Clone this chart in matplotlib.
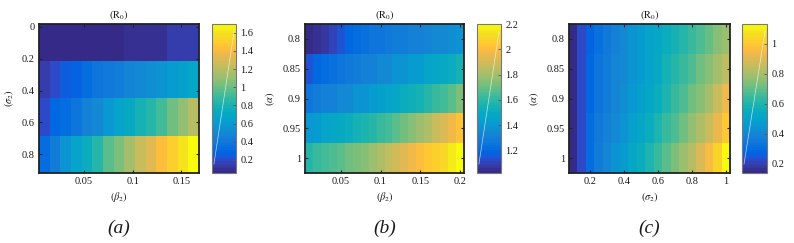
import numpy as np
import matplotlib
matplotlib.use("Agg")
import matplotlib.pyplot as plt
from matplotlib.colors import ListedColormap

# MATLAB parula (64 entries)
parula = ListedColormap([
    [0.2081, 0.1663, 0.5292], [0.2116, 0.1898, 0.5777], [0.2123, 0.2138, 0.6270], [0.2081, 0.2386, 0.6771],
    [0.1959, 0.2645, 0.7279], [0.1707, 0.2919, 0.7792], [0.1253, 0.3242, 0.8303], [0.0591, 0.3598, 0.8683],
    [0.0117, 0.3875, 0.8820], [0.0060, 0.4086, 0.8828], [0.0165, 0.4266, 0.8786], [0.0329, 0.4430, 0.8720],
    [0.0498, 0.4586, 0.8641], [0.0629, 0.4737, 0.8554], [0.0723, 0.4887, 0.8467], [0.0779, 0.5040, 0.8384],
    [0.0793, 0.5200, 0.8312], [0.0749, 0.5375, 0.8263], [0.0641, 0.5570, 0.8240], [0.0488, 0.5772, 0.8228],
    [0.0343, 0.5966, 0.8199], [0.0265, 0.6137, 0.8135], [0.0239, 0.6287, 0.8038], [0.0231, 0.6418, 0.7913],
    [0.0228, 0.6535, 0.7768], [0.0267, 0.6642, 0.7607], [0.0384, 0.6743, 0.7436], [0.0590, 0.6838, 0.7254],
    [0.0843, 0.6928, 0.7062], [0.1133, 0.7015, 0.6859], [0.1453, 0.7098, 0.6646], [0.1801, 0.7177, 0.6424],
    [0.2178, 0.7250, 0.6193], [0.2586, 0.7317, 0.5954], [0.3022, 0.7376, 0.5712], [0.3482, 0.7424, 0.5473],
    [0.3953, 0.7459, 0.5244], [0.4420, 0.7481, 0.5033], [0.4871, 0.7491, 0.4840], [0.5300, 0.7491, 0.4661],
    [0.5709, 0.7485, 0.4494], [0.6099, 0.7473, 0.4337], [0.6473, 0.7456, 0.4188], [0.6834, 0.7435, 0.4044],
    [0.7184, 0.7411, 0.3905], [0.7525, 0.7384, 0.3768], [0.7858, 0.7356, 0.3633], [0.8185, 0.7327, 0.3498],
    [0.8507, 0.7299, 0.3360], [0.8824, 0.7274, 0.3217], [0.9139, 0.7258, 0.3063], [0.9450, 0.7261, 0.2886],
    [0.9739, 0.7314, 0.2666], [0.9938, 0.7455, 0.2403], [0.9990, 0.7653, 0.2164], [0.9955, 0.7861, 0.1967],
    [0.9880, 0.8066, 0.1794], [0.9789, 0.8271, 0.1633], [0.9697, 0.8481, 0.1475], [0.9626, 0.8705, 0.1309],
    [0.9589, 0.8949, 0.1132], [0.9598, 0.9218, 0.0948], [0.9661, 0.9514, 0.0755], [0.9763, 0.9831, 0.0538],
])

# ---- panel (a): R0 over beta2 (x) and sigma2 (y)
beta2_a = [0.0093, 0.0203, 0.0312, 0.0422, 0.0532, 0.0641, 0.0751, 0.0860,
           0.0970, 0.1079, 0.1189, 0.1298, 0.1408, 0.1517, 0.1627]
sigma2_a = [0.1, 0.3333, 0.5667, 0.8]
R0_a = [
    [0.057, 0.057, 0.057, 0.057, 0.080, 0.080, 0.080, 0.080, 0.105, 0.105, 0.105, 0.105, 0.135, 0.135, 0.135],
    [0.139, 0.204, 0.237, 0.286, 0.335, 0.368, 0.401, 0.434, 0.467, 0.499, 0.532, 0.565, 0.598, 0.630, 0.679],
    [0.188, 0.303, 0.335, 0.385, 0.450, 0.516, 0.581, 0.647, 0.712, 0.778, 0.843, 0.925, 1.007, 1.089, 1.204],
    [0.319, 0.417, 0.548, 0.647, 0.745, 0.843, 0.958, 1.040, 1.138, 1.236, 1.318, 1.417, 1.498, 1.613, 1.695],
]

# ---- panel (b): R0 over beta2 (x) and alpha (y)
beta2_b = [0.01, 0.02, 0.03, 0.04, 0.05, 0.06, 0.07, 0.08, 0.09, 0.10,
           0.11, 0.12, 0.13, 0.14, 0.15, 0.16, 0.17, 0.18, 0.19, 0.20]
alpha_b = [0.8, 0.85, 0.9, 0.95, 1.0]
R0_b = [
    [1.020, 1.044, 1.067, 1.103, 1.138, 1.197, 1.221, 1.232, 1.244, 1.256,
     1.268, 1.280, 1.291, 1.303, 1.315, 1.327, 1.339, 1.350, 1.362, 1.374],
    [1.138, 1.197, 1.221, 1.232, 1.244, 1.268, 1.280, 1.303, 1.315, 1.339,
     1.350, 1.374, 1.386, 1.409, 1.421, 1.445, 1.468, 1.492, 1.516, 1.551],
    [1.256, 1.280, 1.303, 1.315, 1.339, 1.350, 1.374, 1.386, 1.409, 1.433,
     1.457, 1.480, 1.504, 1.527, 1.551, 1.575, 1.610, 1.645, 1.681, 1.728],
    [1.398, 1.421, 1.445, 1.468, 1.492, 1.516, 1.539, 1.563, 1.586, 1.610,
     1.645, 1.681, 1.716, 1.752, 1.787, 1.822, 1.870, 1.917, 1.964, 2.023],
    [1.575, 1.610, 1.634, 1.657, 1.681, 1.704, 1.728, 1.752, 1.787, 1.822,
     1.858, 1.893, 1.929, 1.964, 1.999, 2.035, 2.070, 2.106, 2.153, 2.200],
]

# ---- panel (c): R0 over sigma2 (x) and alpha (y)
sigma2_c = [0.10, 0.15, 0.20, 0.25, 0.30, 0.35, 0.40, 0.45, 0.50, 0.55,
            0.60, 0.65, 0.70, 0.75, 0.80, 0.85, 0.90, 0.95, 1.00]
alpha_c = [0.8, 0.85, 0.9, 0.95, 1.0]
R0_c = [
    [0.145, 0.219, 0.279, 0.318, 0.348, 0.378, 0.407, 0.437, 0.467, 0.496,
     0.526, 0.556, 0.586, 0.615, 0.645, 0.675, 0.704, 0.744, 0.784],
    [0.145, 0.219, 0.289, 0.328, 0.358, 0.388, 0.417, 0.447, 0.477, 0.506,
     0.536, 0.576, 0.605, 0.645, 0.675, 0.714, 0.754, 0.793, 0.843],
    [0.145, 0.219, 0.289, 0.338, 0.368, 0.397, 0.427, 0.457, 0.487, 0.526,
     0.556, 0.595, 0.635, 0.675, 0.714, 0.754, 0.803, 0.853, 0.932],
    [0.145, 0.219, 0.298, 0.348, 0.378, 0.417, 0.447, 0.487, 0.516, 0.556,
     0.595, 0.635, 0.675, 0.714, 0.764, 0.813, 0.863, 0.922, 1.001],
    [0.145, 0.219, 0.308, 0.358, 0.397, 0.437, 0.477, 0.516, 0.556, 0.595,
     0.635, 0.685, 0.734, 0.784, 0.833, 0.892, 0.952, 1.031, 1.130],
]

panels = [
    dict(x=beta2_a, y=sigma2_a, z=R0_a, clim=(0.057, 1.695),
         xticks=[0.05, 0.1, 0.15], yticks=[0, 0.2, 0.4, 0.6, 0.8],
         cticks=[0.2, 0.4, 0.6, 0.8, 1.0, 1.2, 1.4, 1.6],
         xlabel=r"$(\beta_2)$", ylabel=r"$(\sigma_2)$", tag="(a)",
         ax_px=(39, 199), cb_px=(212, 236)),
    dict(x=beta2_b, y=alpha_b, z=R0_b, clim=(1.02, 2.2),
         xticks=[0.05, 0.1, 0.15, 0.2], yticks=[0.8, 0.85, 0.9, 0.95, 1.0],
         cticks=[1.2, 1.4, 1.6, 1.8, 2.0, 2.2],
         xlabel=r"$(\beta_2)$", ylabel=r"$(\alpha)$", tag="(b)",
         ax_px=(305, 464), cb_px=(477, 501)),
    dict(x=sigma2_c, y=alpha_c, z=R0_c, clim=(0.14, 1.13),
         xticks=[0.2, 0.4, 0.6, 0.8, 1.0], yticks=[0.8, 0.85, 0.9, 0.95, 1.0],
         cticks=[0.2, 0.4, 0.6, 0.8, 1.0],
         xlabel=r"$(\sigma_2)$", ylabel=r"$(\alpha)$", tag="(c)",
         ax_px=(569, 730), cb_px=(742, 767)),
]

plt.rcParams["font.family"] = "Liberation Serif"
plt.rcParams["mathtext.fontset"] = "stix"

W, H = 794, 243
fig = plt.figure(figsize=(W / 100, H / 100), dpi=100)
top_px, bot_px = 24, 173
txt = "#1a1a1a"

def fmt(v):
    return "%g" % v

for p in panels:
    x0, x1 = p["ax_px"]
    ax = fig.add_axes([x0 / W, 1 - bot_px / H, (x1 - x0) / W, (bot_px - top_px) / H])
    mesh = ax.pcolormesh(p["x"], p["y"], np.array(p["z"]), cmap=parula,
                         vmin=p["clim"][0], vmax=p["clim"][1], shading="nearest")
    ax.invert_yaxis()
    ax.set_xticks(p["xticks"])
    ax.set_xticklabels([fmt(v) for v in p["xticks"]])
    ax.set_yticks(p["yticks"])
    ax.set_yticklabels([fmt(v) for v in p["yticks"]])
    ax.tick_params(direction="in", length=2.5, width=0.8, labelsize=7.5, pad=3,
                   top=True, right=True, colors="#222222", labelcolor=txt)
    for s in ax.spines.values():
        s.set_linewidth(1.3)
        s.set_color("#222222")
    ax.set_title(r"$(\mathrm{R}_0)$", fontsize=7.5, pad=4, color=txt)
    ax.set_xlabel(p["xlabel"], fontsize=7.5, labelpad=3, color=txt)
    ax.set_ylabel(p["ylabel"], fontsize=7.5, labelpad=4, color=txt)
    ax.text(0.5, -0.31, p["tag"], transform=ax.transAxes, ha="center", va="top",
            fontsize=14, style="italic", color=txt)

    c0, c1 = p["cb_px"]
    cax = fig.add_axes([c0 / W, 1 - bot_px / H, (c1 - c0) / W, (bot_px - top_px) / H])
    cb = fig.colorbar(mesh, cax=cax)
    cb.set_ticks(p["cticks"])
    cb.set_ticklabels([fmt(v) for v in p["cticks"]])
    cb.ax.tick_params(direction="in", length=2, width=0.6, labelsize=7.5, pad=3,
                      colors="#555555", labelcolor=txt)
    cb.outline.set_linewidth(0.8)
    cb.outline.set_edgecolor("#777777")
    cax.plot([0.08, 0.92], [0.06, 0.95], transform=cax.transAxes,
             color="white", lw=0.5, alpha=0.7)

fig.savefig("out.png", dpi=100)
